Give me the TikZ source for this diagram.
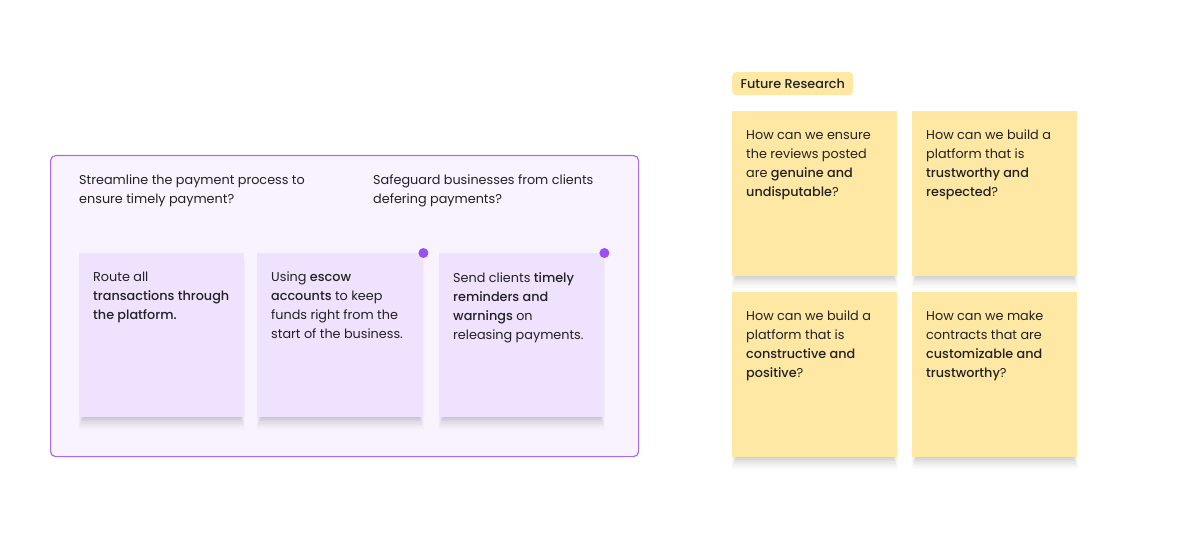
\documentclass[tikz,border=0pt]{standalone}
\usepackage{fontspec}
\setmainfont{Poppins}[BoldFont={Poppins Medium}]
\definecolor{framefill}{HTML}{F8F3FF}
\definecolor{frameline}{HTML}{A66CF7}
\definecolor{lilac}{HTML}{EFE2FE}
\definecolor{dotc}{HTML}{9B4FF6}
\definecolor{yel}{HTML}{FFE8A3}
\definecolor{txt}{HTML}{222222}
\tikzset{
  x=1pt, y=-1pt,
  txtstyle/.style={anchor=north west, inner sep=0pt, align=left, text=txt,
    font=\fontsize{12.8}{19}\selectfont},
  sticky/.style={anchor=north west, minimum width=165pt, minimum height=164pt, inner sep=0pt, draw=none},
  dotstyle/.style={circle, fill=dotc, inner sep=0pt, minimum size=10pt},
}
\newcommand{\shadowbox}[4]{% x0 y0 x1 y1
  \foreach \k/\o in {1/0.03,2/0.025,3/0.025,4/0.02,5/0.02,6/0.015,7/0.015,8/0.01,9/0.01,10/0.008}{
    \fill[black, opacity=\o] (#1+4-\k*0.5, #2+6) rectangle (#3-4+\k*0.5, #4+\k*1.3);
  }
}
\begin{document}
\begin{tikzpicture}
\useasboundingbox[fill=white] (0,0) rectangle (1184,548);
% frame
\node[anchor=north west, minimum width=588pt, minimum height=301pt, inner sep=0pt,
  draw=frameline, line width=1.2pt, fill=framefill, rounded corners=5pt] (frame) at (50,155) {};
\node[txtstyle] (h1) at (79,175) {Streamline the payment process to\\ensure timely payment?};
\node[txtstyle] (h2) at (373,175) {Safeguard businesses from clients\\defering payments?};
% purple stickies
\shadowbox{79}{253}{244}{417}
\shadowbox{257}{253}{423}{417}
\shadowbox{439}{253}{604}{417}
\node[sticky, fill=lilac] (p1) at (79,253) {};
\node[sticky, fill=lilac, minimum width=166pt] (p2) at (257,253) {};
\node[sticky, fill=lilac] (p3) at (439,253) {};
\node[txtstyle] (t1) at ([xshift=14pt,yshift=-19pt]p1.north west) {Route all\\\textbf{transactions through}\\\textbf{the platform.}};
\node[txtstyle] (t2) at ([xshift=14pt,yshift=-19pt]p2.north west) {Using \textbf{escow}\\\textbf{accounts} to keep\\funds right from the\\start of the business.};
\node[txtstyle] (t3) at ([xshift=14pt,yshift=-19pt]p3.north west) {Send clients \textbf{timely}\\\textbf{reminders and}\\\textbf{warnings} on\\releasing payments.};
\node[dotstyle] (d1) at (p2.north east) {};
\node[dotstyle] (d2) at (p3.north east) {};
% future research
\node[anchor=north west, fill=yel, rounded corners=4pt, minimum width=121pt, minimum height=23pt, inner sep=0pt,
  text=txt, font=\fontsize{12.8}{16}\selectfont\bfseries] (fr) at (732,72) {Future Research};
\shadowbox{732}{111}{897}{276}
\shadowbox{912}{111}{1077}{276}
\shadowbox{732}{292}{897}{457}
\shadowbox{912}{292}{1077}{457}
\node[sticky, fill=yel, minimum height=165pt] (y1) at (732,111) {};
\node[sticky, fill=yel, minimum height=165pt] (y2) at (912,111) {};
\node[sticky, fill=yel, minimum height=165pt] (y3) at (732,292) {};
\node[sticky, fill=yel, minimum height=165pt] (y4) at (912,292) {};
\node[txtstyle] (u1) at ([xshift=14pt,yshift=-19pt]y1.north west) {How can we ensure\\the reviews posted\\are \textbf{genuine and}\\\textbf{undisputable}?};
\node[txtstyle] (u2) at ([xshift=14pt,yshift=-19pt]y2.north west) {How can we build a\\platform that is\\\textbf{trustworthy and}\\\textbf{respected}?};
\node[txtstyle] (u3) at ([xshift=14pt,yshift=-19pt]y3.north west) {How can we build a\\platform that is\\\textbf{constructive and}\\\textbf{positive}?};
\node[txtstyle] (u4) at ([xshift=14pt,yshift=-19pt]y4.north west) {How can we make\\contracts that are\\\textbf{customizable and}\\\textbf{trustworthy}?};
\end{tikzpicture}
\end{document}
